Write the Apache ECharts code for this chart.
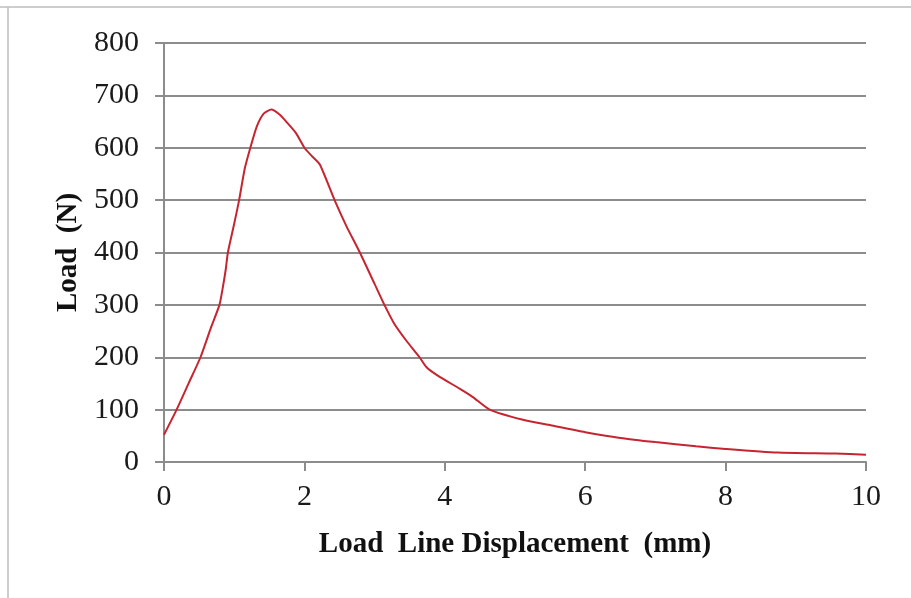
<!DOCTYPE html>
<html>
<head>
<meta charset="utf-8">
<script src="https://cdn.jsdelivr.net/npm/echarts@6/dist/echarts.min.js"></script>
<style>
html,body{margin:0;padding:0;background:#fff;}
#chart{width:911px;height:598px;}
</style>
</head>
<body>
<div id="chart"></div>
<script>
const displacement = [0, 0.18, 0.35, 0.52, 0.67, 0.79, 0.84, 0.88, 0.91, 1.0, 1.07, 1.15, 1.23, 1.32, 1.42, 1.53, 1.65, 1.74, 1.88, 2.0, 2.1, 2.22, 2.43, 2.6, 2.79, 3.0, 3.14, 3.28, 3.45, 3.64, 3.74, 3.9, 4.21, 4.4, 4.64, 5.1, 5.51, 6.0, 6.5, 7.0, 7.58, 8.0, 8.74, 9.56, 10];
const load = [52, 100, 150, 200, 257, 300, 335, 368, 400, 455, 500, 560, 600, 640, 665, 673, 663, 650, 628, 600, 585, 568, 500, 450, 400, 340, 300, 264, 232, 200, 181, 165, 140, 124, 100, 81, 70, 57, 46, 38, 30, 25, 18, 16, 14];
const xTicks = [0, 2, 4, 6, 8, 10];
const yTicks = [0, 100, 200, 300, 400, 500, 600, 700, 800];
const xName = 'Load  Line Displacement  (mm)';
const yName = 'Load  (N)';

const chart = echarts.init(document.getElementById('chart'), null, {renderer: 'canvas'});
const font = '"Liberation Serif", "Times New Roman", serif';
chart.setOption({
  animation: false,
  backgroundColor: '#ffffff',
  grid: {left: 164, right: 45, top: 43, bottom: 136, containLabel: false},
  graphic: [
    {type: 'line', shape: {x1: 0, y1: 7, x2: 911, y2: 7}, style: {stroke: '#bdbdbd', lineWidth: 1.5}},
    {type: 'line', shape: {x1: 8, y1: 7, x2: 8, y2: 598}, style: {stroke: '#bdbdbd', lineWidth: 1.5}}
  ],
  xAxis: {
    type: 'value',
    min: xTicks[0], max: xTicks[xTicks.length - 1], interval: 2,
    name: xName, nameLocation: 'middle', nameGap: 68,
    nameTextStyle: {fontFamily: font, fontSize: 29, fontWeight: 'bold', color: '#111'},
    axisLine: {show: true, lineStyle: {color: '#8c8c8c', width: 2}},
    axisTick: {show: true, length: 9, inside: false, lineStyle: {color: '#8c8c8c', width: 2}},
    axisLabel: {fontFamily: font, fontSize: 30, color: '#1a1a1a', margin: 20},
    splitLine: {show: false}
  },
  yAxis: {
    type: 'value',
    min: yTicks[0], max: yTicks[yTicks.length - 1], interval: 100,
    name: yName, nameLocation: 'middle', nameGap: 81,
    nameTextStyle: {fontFamily: font, fontSize: 29, fontWeight: 'bold', color: '#111'},
    axisLine: {show: true, lineStyle: {color: '#8c8c8c', width: 2}},
    axisTick: {show: true, length: 9, inside: false, lineStyle: {color: '#8c8c8c', width: 2}},
    axisLabel: {fontFamily: font, fontSize: 30, color: '#1a1a1a', margin: 25},
    splitLine: {show: true, lineStyle: {color: '#8c8c8c', width: 2}}
  },
  series: [{
    type: 'line',
    data: displacement.map((x, i) => [x, load[i]]),
    showSymbol: false,
    smooth: 0.2,
    lineStyle: {color: '#c52530', width: 2}
  }]
});
</script>
</body>
</html>
